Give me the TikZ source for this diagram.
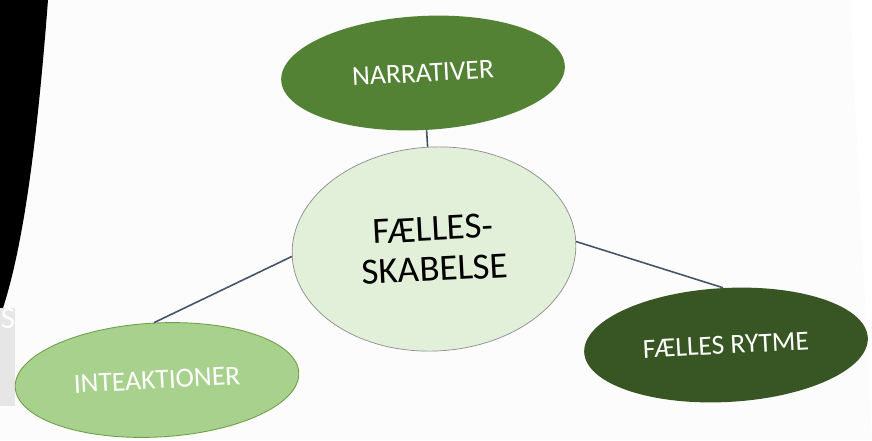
\documentclass[tikz,border=0pt]{standalone}
\usepackage{fontspec}
\setmainfont{Carlito}
\usetikzlibrary{shapes.geometric}
\definecolor{narrgreen}{HTML}{548235}
\definecolor{rytmegreen}{HTML}{375623}
\definecolor{intergreen}{HTML}{A9D18E}
\definecolor{interedge}{HTML}{6FA048}
\definecolor{corefill}{HTML}{E2F0D9}
\definecolor{coreedge}{HTML}{8C8C8C}
\definecolor{linkblue}{HTML}{44546A}
\definecolor{stripgrey}{HTML}{E6E6E6}
\definecolor{pagetint}{HTML}{FCFCFC}

\tikzset{
  bubble/.style={ellipse, inner sep=0pt, rotate=3, minimum width=5.68cm,
    minimum height=2.28cm, text=white, font=\fontsize{15.7}{18}\selectfont},
  link/.style={draw=linkblue, line width=0.9pt}
}

\begin{document}
\begin{tikzpicture}[x=0.02cm, y=-0.02cm]
\useasboundingbox (0,0) rectangle (872,440);
\fill[pagetint] (0,0) -- (850,0) -- (872,440) -- (0,440) -- cycle;
\fill[black] (0,0) -- (48,0) .. controls (38,130) and (25,240) .. (3,308) -- (0,312) -- cycle;
\fill[stripgrey] (0,308) rectangle (15,406);
\path (8,319) node[text=white, font=\fontsize{17.6}{20}\selectfont] (s) {S};

\path (423,73) node[bubble, fill=narrgreen] (narr) {NARRATIVER};
\path (434,249) node[ellipse, draw=coreedge, fill=corefill, inner sep=0pt, rotate=3,
    minimum width=5.68cm, minimum height=4.08cm, align=center,
    font=\fontsize{21}{23}\selectfont] (core) {FÆLLES-\\SKABELSE};
\path (157,380) node[bubble, fill=intergreen, draw=interedge, line width=0.5pt] (inter) {INTEAKTIONER};
\path (726,345) node[bubble, fill=rytmegreen] (rytme) {FÆLLES RYTME};

\draw[link] (narr) -- (core);
\draw[link] (core.east) -- (rytme.north);
\draw[link] (core.west) -- (inter.north);
\end{tikzpicture}
\end{document}
